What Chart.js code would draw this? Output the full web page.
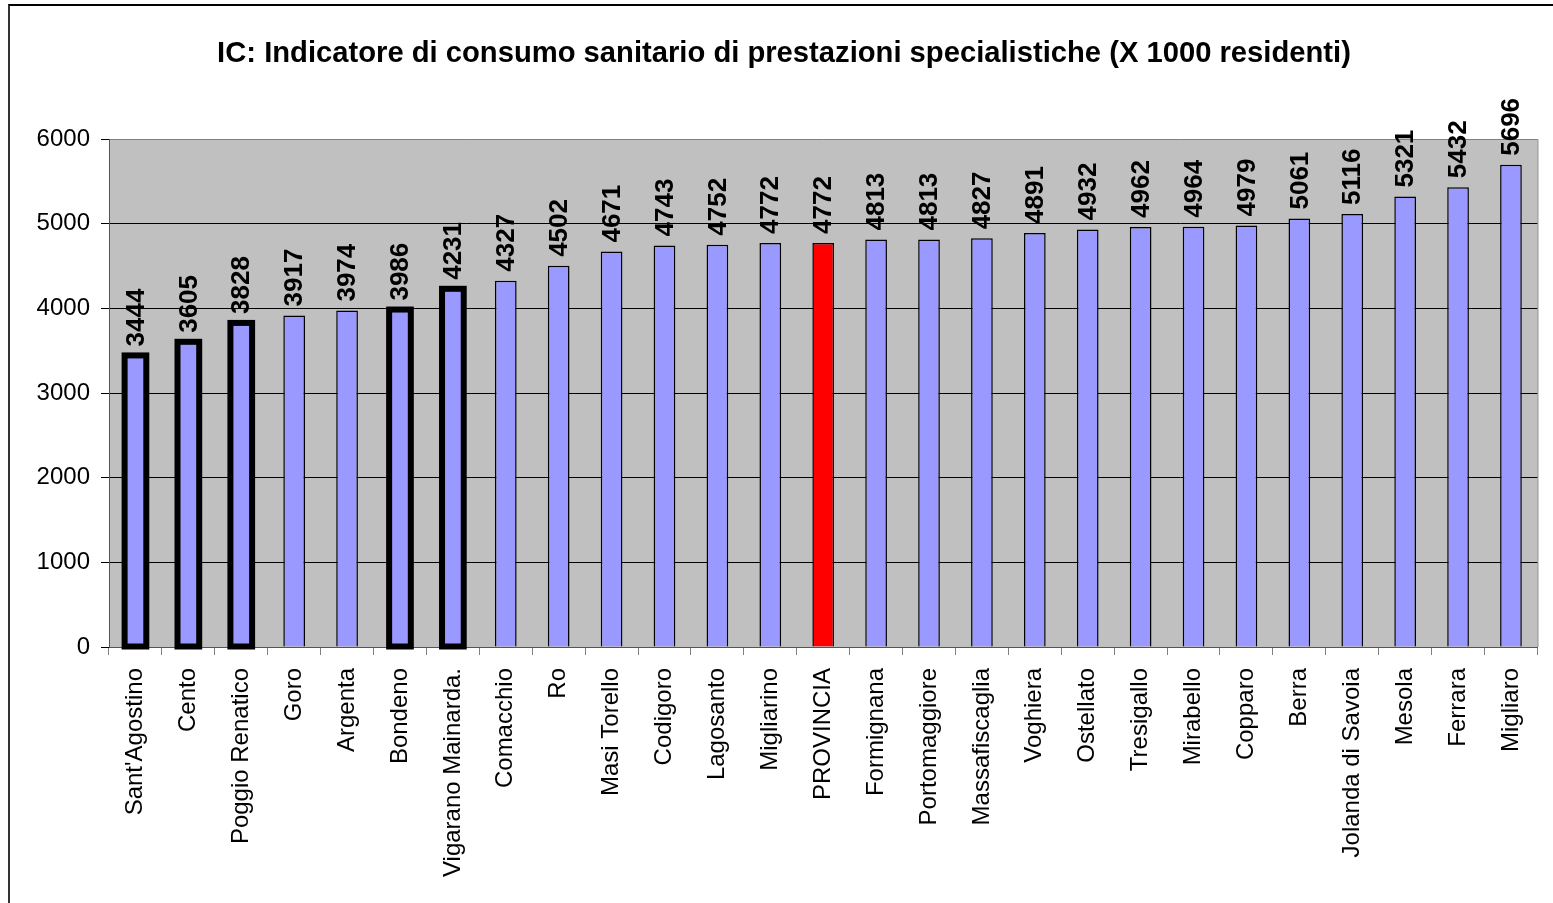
<!DOCTYPE html>
<html>
<head>
<meta charset="utf-8">
<script src="https://cdn.jsdelivr.net/npm/chart.js@4.4.1/dist/chart.umd.min.js"></script>
<style>
body{margin:0;background:#fff;overflow:hidden;}
#frame{position:absolute;left:8px;top:4px;width:1600px;height:950px;border-left:2px solid #333;border-top:2px solid #000;}
#myChart{position:absolute;left:0;top:0;}
</style>
</head>
<body>
<div id="frame"></div>
<canvas id="myChart" width="1553" height="903"></canvas>
<script>
// dati
var comuni = ["Sant'Agostino", "Cento", "Poggio Renatico", "Goro", "Argenta", "Bondeno", "Vigarano Mainarda.",
	"Comacchio", "Ro", "Masi Torello", "Codigoro", "Lagosanto", "Migliarino", "PROVINCIA", "Formignana",
	"Portomaggiore", "Massafiscaglia", "Voghiera", "Ostellato", "Tresigallo", "Mirabello", "Copparo",
	"Berra", "Jolanda di Savoia", "Mesola", "Ferrara", "Migliaro"];
var valori = [3444, 3605, 3828, 3917, 3974, 3986, 4231, 4327, 4502, 4671, 4743, 4752, 4772, 4772, 4813,
	4813, 4827, 4891, 4932, 4962, 4964, 4979, 5061, 5116, 5321, 5432, 5696];
var evidenziati = ["Sant'Agostino", "Cento", "Poggio Renatico", "Bondeno", "Vigarano Mainarda."]; // bordo spesso
var totale = "PROVINCIA"; // barra rossa
var yTicks = [0, 1000, 2000, 3000, 4000, 5000, 6000];

var colori = comuni.map(function(c){ return c == totale ? '#FF0000' : '#9999FF'; });

// sfondo grigio dell'area del grafico
var sfondo = {
	id: 'sfondo',
	beforeDraw: function(chart){
		var a = chart.chartArea, ctx = chart.ctx;
		ctx.save();
		ctx.fillStyle = '#C0C0C0';
		ctx.fillRect(a.left, a.top, a.right - a.left, a.bottom - a.top);
		ctx.strokeStyle = '#808080';
		ctx.lineWidth = 1;
		ctx.beginPath();
		ctx.moveTo(a.right + 0.5, a.top);
		ctx.lineTo(a.right + 0.5, a.bottom);
		ctx.stroke();
		ctx.restore();
	}
};

// bordo spesso + etichette verticali sopra le barre
var etichette = {
	id: 'etichette',
	afterDatasetsDraw: function(chart){
		var ctx = chart.ctx;
		var meta = chart.getDatasetMeta(0);
		ctx.save();
		meta.data.forEach(function(bar, i){
			if(evidenziati.indexOf(comuni[i]) >= 0){
				ctx.strokeStyle = '#000';
				ctx.lineWidth = 6;
				ctx.strokeRect(bar.x - bar.width/2, bar.y, bar.width, bar.base - bar.y);
			}
		});
		ctx.fillStyle = '#000';
		ctx.font = 'bold 26px "Liberation Sans", Arial, sans-serif';
		ctx.textAlign = 'left';
		ctx.textBaseline = 'middle';
		meta.data.forEach(function(bar, i){
			ctx.save();
			ctx.translate(bar.x + 1, bar.y - 9);
			ctx.rotate(-Math.PI/2);
			ctx.fillText(String(valori[i]), 0, 0);
			ctx.restore();
		});
		ctx.restore();
	}
};

var ctx = document.getElementById('myChart');
new Chart(ctx, {
	type: 'bar',
	data: {
		labels: comuni,
		datasets: [{
			data: valori,
			backgroundColor: colori,
			borderColor: '#000',
			borderWidth: 1.5,
			barPercentage: 0.41,
			categoryPercentage: 1
		}]
	},
	plugins: [sfondo, etichette],
	options: {
		responsive: false,
		animation: false,
		layout: { padding: { left: 28, right: 13, top: 0, bottom: 0 } },
		plugins: {
			legend: { display: false },
			tooltip: { enabled: false },
			title: {
				display: true,
				text: 'IC: Indicatore di consumo sanitario di prestazioni specialistiche (X 1000 residenti)',
				color: '#000',
				font: { family: '"Liberation Sans", Arial, sans-serif', size: 29.2, weight: 'bold' },
				padding: { top: 36.5, bottom: 67.5 }
			}
		},
		scales: {
			x: {
				afterFit: function(scale){ scale.height = 256; },
				grid: { drawOnChartArea: false, tickLength: 8, tickColor: '#808080', offset: true },
				border: { color: '#555', width: 1 },
				ticks: {
					autoSkip: false, minRotation: 90, maxRotation: 90, padding: 13, color: '#000',
					font: { family: '"Liberation Sans", Arial, sans-serif', size: 24 }
				}
			},
			y: {
				min: 0,
				max: 6000,
				afterFit: function(scale){ scale.width = 81; },
				afterBuildTicks: function(scale){ scale.ticks = yTicks.map(function(v){ return { value: v }; }); },
				grid: {
					color: function(c){ return c.tick && c.tick.value == 6000 ? '#808080' : '#000'; },
					tickLength: 8, tickColor: '#000'
				},
				border: { color: '#555', width: 1 },
				ticks: {
					padding: 11, color: '#000',
					callback: function(v){ return String(v); },
					font: { family: '"Liberation Sans", Arial, sans-serif', size: 24 }
				}
			}
		}
	}
});
</script>
</body>
</html>
